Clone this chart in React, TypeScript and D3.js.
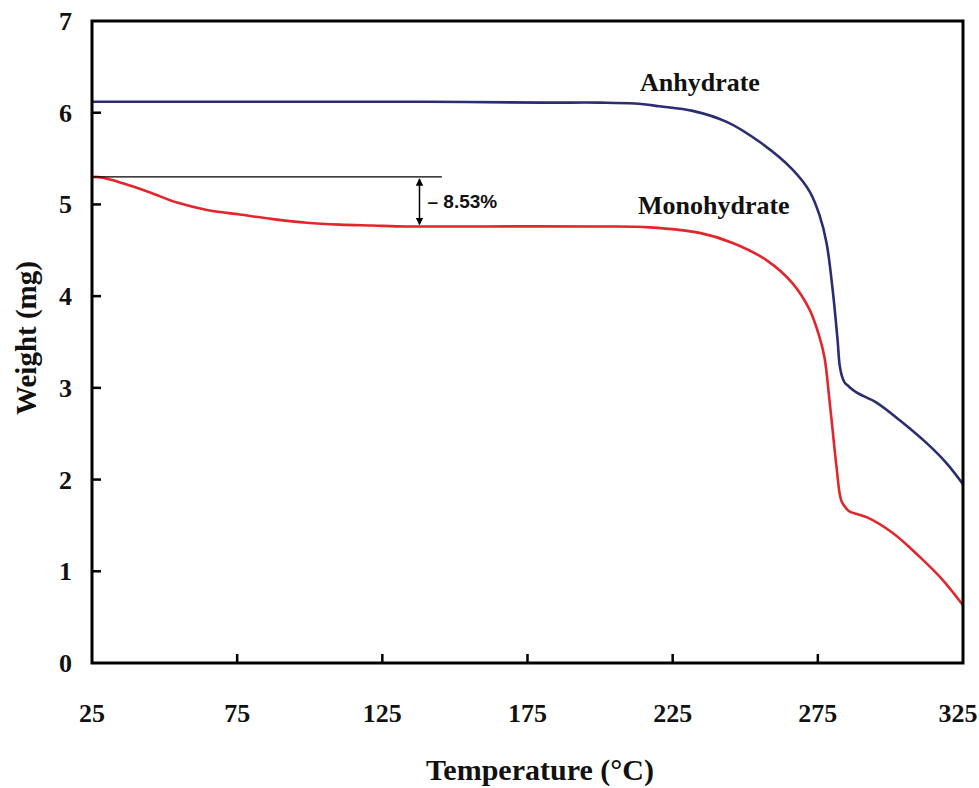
import React from 'react';
import * as d3 from 'd3';

// Anhydrate trace (temperature °C, weight mg)
const anhydrateTemp = [25, 60, 100, 140, 180, 200, 212, 220.5, 231.9, 243.6, 255, 266.3, 272.2, 275.6, 278, 280.1, 281.8, 282.5, 283.2, 284.2, 285.5, 288.3, 295.2, 303.1, 312.4, 319.3, 325];
const anhydrateWeight = [6.12, 6.12, 6.12, 6.12, 6.11, 6.11, 6.1, 6.07, 6.02, 5.9, 5.68, 5.38, 5.14, 4.88, 4.58, 4.07, 3.52, 3.25, 3.14, 3.06, 3.02, 2.95, 2.84, 2.65, 2.4, 2.18, 1.95];

// Monohydrate trace
const monoTemp = [25, 28.8, 35.7, 45, 54.3, 64.6, 75.9, 87.3, 99, 110.4, 121.7, 133.4, 160, 200, 217.1, 234.3, 245.7, 257.4, 266.3, 272.2, 275.6, 277.3, 279, 280.8, 281.5, 282.5, 283.2, 284.9, 286, 291.8, 300.7, 310, 317.9, 325];
const monoWeight = [5.3, 5.29, 5.23, 5.13, 5.02, 4.94, 4.89, 4.84, 4.8, 4.78, 4.77, 4.76, 4.76, 4.76, 4.75, 4.69, 4.58, 4.39, 4.14, 3.85, 3.55, 3.33, 2.87, 2.32, 2.12, 1.85, 1.76, 1.68, 1.65, 1.59, 1.42, 1.16, 0.91, 0.63];

const xTicks = [25, 75, 125, 175, 225, 275, 325];
const yTicks = [0, 1, 2, 3, 4, 5, 6, 7];

// mass-loss annotation
const lossTop = 5.3;
const lossBottom = 4.76;
const lossLineEnd = 145.5;
const lossArrowAt = 137.8;

const W = 979;
const H = 788;
const serif = '"Liberation Serif", "Times New Roman", serif';

export default function App() {
  const x = d3.scaleLinear().domain([25, 325]).range([92, 963]);
  const y = d3.scaleLinear().domain([0, 7]).range([663, 21]);

  const line = d3
    .line<[number, number]>()
    .x((d) => x(d[0]))
    .y((d) => y(d[1]))
    .curve(d3.curveCatmullRom.alpha(0.5));

  const anhydrate = anhydrateTemp.map((t, i) => [t, anhydrateWeight[i]] as [number, number]);
  const mono = monoTemp.map((t, i) => [t, monoWeight[i]] as [number, number]);

  const ax = x(lossArrowAt);
  const yTop = y(lossTop);
  const yBot = y(lossBottom);

  return (
    <svg width={W} height={H} style={{ position: 'absolute', left: 0, top: 0, background: '#fff' }}>
      <defs>
        <marker id="ah" viewBox="0 0 10 10" refX="9" refY="5" markerWidth="5" markerHeight="5" orient="auto-start-reverse">
          <path d="M0,0 L10,5 L0,10 z" fill="#000" />
        </marker>
      </defs>

      {/* data lines */}
      <path d={line(anhydrate) || ''} fill="none" stroke="#2b2c72" strokeWidth={2.6} />
      <path d={line(mono) || ''} fill="none" stroke="#e3262c" strokeWidth={2.6} />

      {/* annotation */}
      <line x1={x(25)} x2={x(lossLineEnd)} y1={yTop} y2={yTop} stroke="#000" strokeWidth={1.2} />
      <line x1={ax} x2={ax} y1={yTop + 2} y2={yBot - 2} stroke="#000" strokeWidth={1.5} markerStart="url(#ah)" markerEnd="url(#ah)" />
      <text x={ax + 8} y={(yTop + yBot) / 2 + 6} fontFamily='"Liberation Sans", Arial, sans-serif' fontWeight="bold" fontSize={19} fill="#111">
        – 8.53%
      </text>

      {/* frame */}
      <rect x={x(25)} y={y(7)} width={x(325) - x(25)} height={y(0) - y(7)} fill="none" stroke="#000" strokeWidth={3} />

      {/* ticks (inward) */}
      {xTicks.slice(1, -1).map((t) => (
        <line key={'xt' + t} x1={x(t)} x2={x(t)} y1={y(0)} y2={y(0) - 9} stroke="#000" strokeWidth={2.5} />
      ))}
      {yTicks.slice(1, -1).map((t) => (
        <line key={'yt' + t} x1={x(25)} x2={x(25) + 9} y1={y(t)} y2={y(t)} stroke="#000" strokeWidth={2.5} />
      ))}

      {/* tick labels */}
      {xTicks.map((t) => (
        <text key={'xl' + t} x={Math.min(x(t), W - 21)} y={722} textAnchor="middle" fontFamily={serif} fontWeight="bold" fontSize={26} fill="#111">
          {t}
        </text>
      ))}
      {yTicks.map((t) => (
        <text key={'yl' + t} x={72} y={y(t) + 9} textAnchor="end" fontFamily={serif} fontWeight="bold" fontSize={26} fill="#111">
          {t}
        </text>
      ))}

      {/* series labels */}
      <text x={640} y={91} fontFamily={serif} fontWeight="bold" fontSize={26} fill="#111">Anhydrate</text>
      <text x={638} y={214} fontFamily={serif} fontWeight="bold" fontSize={26} fill="#111">Monohydrate</text>

      {/* axis titles */}
      <text x={540} y={780} textAnchor="middle" fontFamily={serif} fontWeight="bold" fontSize={30} fill="#111">
        Temperature (°C)
      </text>
      <text transform="translate(36,338) rotate(-90)" textAnchor="middle" fontFamily={serif} fontWeight="bold" fontSize={29} fill="#111">
        Weight (mg)
      </text>
    </svg>
  );
}
